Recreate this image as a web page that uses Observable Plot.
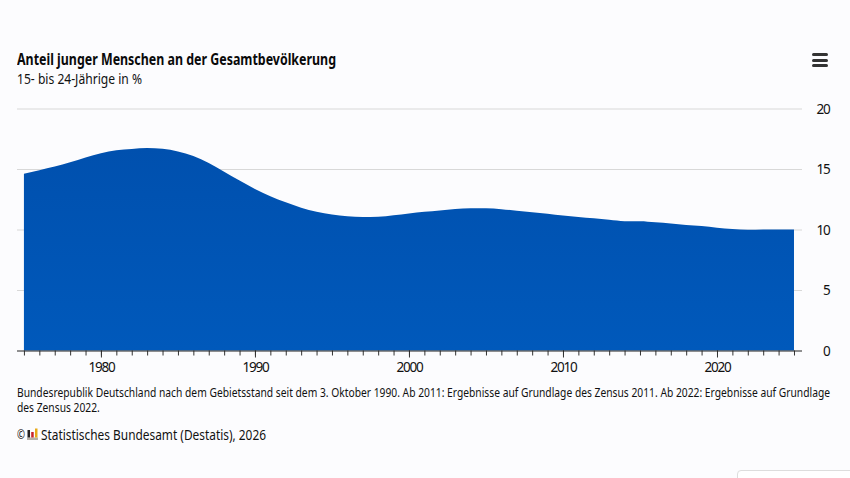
<!DOCTYPE html>
<html lang="de"><head><meta charset="utf-8">
<script src="https://cdn.jsdelivr.net/npm/d3@7"></script>
<script src="https://cdn.jsdelivr.net/npm/@observablehq/plot@0.6"></script>
<style>
html,body{margin:0;padding:0;background:#fcfcfe;width:850px;height:478px;overflow:hidden}
body{position:relative;font-family:"Noto Sans",Roboto,sans-serif;color:#111}
.t{position:absolute;left:17px;white-space:nowrap;transform-origin:0 0}
#title{top:49.5px;font-size:15.5px;line-height:18px;font-weight:700;color:#0a0a0a}
#sub{top:69px;font-size:14.5px;line-height:18px}
#chart{position:absolute;left:0;top:95px}
#note{top:386px;font-size:12.5px;line-height:14.5px}
#copy{top:425px;font-size:13px}
#src{top:424px;left:41px;font-size:14.5px}
#logo{position:absolute;left:27px;top:428px}
#menu{position:absolute;left:812px;top:53px;width:16px}
#menu i{display:block;height:3px;background:#333;border-radius:1.5px;margin-bottom:2.5px}
#box{position:absolute;left:737px;top:470px;width:130px;height:30px;background:#fff;border:1px solid #ddd;border-radius:4px}
#chart svg{overflow:visible}
#chart svg text{letter-spacing:-1.2px}
</style></head><body>
<div class="t" id="title">Anteil junger Menschen an der Gesamtbevölkerung</div>
<div class="t" id="sub">15- bis 24-Jährige in %</div>
<div id="menu"><i></i><i></i><i></i></div>
<div id="chart"></div>
<div class="t" id="note">Bundesrepublik Deutschland nach dem Gebietsstand seit dem 3. Oktober 1990. Ab 2011: Ergebnisse auf Grundlage des Zensus 2011. Ab 2022: Ergebnisse auf Grundlage<br>des Zensus 2022.</div>
<div class="t" id="copy">©</div>
<svg id="logo" width="11" height="12" viewBox="0 0 11 12"><rect x="0" y="9.5" width="11" height="2.5" fill="#b5b0a8"/><rect x="0.5" y="2" width="2.5" height="7.5" fill="#222"/><rect x="4.2" y="4" width="2.5" height="5.5" fill="#c8242b"/><rect x="8" y="0.5" width="2.5" height="9" fill="#e8a917"/></svg>
<div class="t" id="src">Statistisches Bundesamt (Destatis), 2026</div>
<div id="box"></div>
<script>
const years = d3.range(1975, 2026);
const shares = [14.6,14.9,15.2,15.55,15.95,16.3,16.55,16.65,16.73,16.67,16.45,16.08,15.5,14.78,14.05,13.35,12.75,12.25,11.8,11.47,11.25,11.1,11.03,11.05,11.17,11.33,11.47,11.58,11.7,11.76,11.76,11.68,11.55,11.43,11.3,11.15,11.03,10.92,10.8,10.69,10.69,10.6,10.5,10.38,10.28,10.15,10.05,9.97,10.0,10.0,10.0];
const yTicks = [0,5,10,15,20];
const xLabels = [1980,1990,2000,2010,2020];
const rows = years.map((year,i)=>({year,share:shares[i]}));
const plot = Plot.plot({
  width:850, height:275, marginLeft:17, marginRight:48, marginTop:13.5, marginBottom:19.5,
  style:{background:"transparent",fontFamily:"inherit",fontSize:"14px",color:"#111",overflow:"visible"},
  x:{domain:[1974.55,2025.52],label:null,axis:null},
  y:{domain:[0,20],label:null,axis:null},
  marks:[
    Plot.ruleY(yTicks.filter(d=>d>0),{stroke:"#d8d8d8",strokeWidth:1}),
    Plot.areaY(rows,{x:"year",y:"share",fill:"url(#areaFill)",curve:"monotone-x"}),
    Plot.axisX({ticks:years,tickSize:5,tickFormat:()=>"",stroke:"#333",strokeOpacity:1}),
    Plot.axisX({ticks:xLabels,tickSize:7,tickFormat:d=>String(d),tickPadding:4,stroke:"#333",strokeOpacity:1,fontSize:13.5,fill:"#111"}),
    Plot.ruleY([0],{stroke:"#222",strokeWidth:1.2}),
    Plot.axisY({ticks:yTicks,anchor:"right",tickSize:0,tickPadding:27,label:null,textAnchor:"end",fontSize:13.5,fill:"#111",dy:0.5})
  ]
});
const defs = d3.select(plot).append("defs").append("linearGradient").attr("id","areaFill").attr("x1",0).attr("y1",0).attr("x2",0).attr("y2",1);
defs.append("stop").attr("offset",0).attr("stop-color","#0050ae");
defs.append("stop").attr("offset",1).attr("stop-color","#0059bb");
document.getElementById("chart").appendChild(plot);
const fitWidths = {title:319, sub:125, note:813, copy:8, src:225};
for (const [id,w] of Object.entries(fitWidths)) {
  const el = document.getElementById(id);
  el.style.display = "inline-block";
  el.style.transform = `scaleX(${w/el.getBoundingClientRect().width})`;
}
</script>
</body></html>
